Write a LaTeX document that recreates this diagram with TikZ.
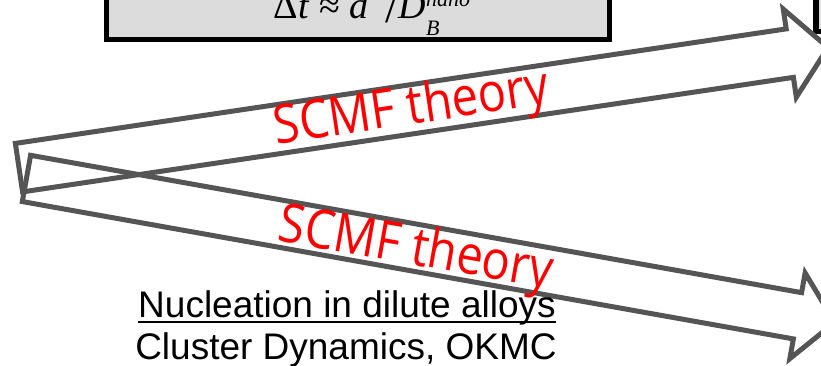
\documentclass[tikz,border=0pt]{standalone}
\usepackage{fontspec}
\setmainfont{Liberation Sans}
\newfontfamily\theoryfont{Open Sans}
\newfontfamily\eqfont{Liberation Serif}
\usepackage{xcolor}
\usepackage{graphicx}
\usepackage{tikz}
\usetikzlibrary{shapes.arrows}
\definecolor{arrowgray}{RGB}{85,85,85}
\definecolor{boxgray}{RGB}{220,220,220}
\newcommand{\scriptpart}[1]{{\fontsize{22}{22}\selectfont\textit{#1}}}

\begin{document}
\begin{tikzpicture}[
        x=1pt, y=-1pt,
        box/.style={
            draw=black,
            line width=5.5pt,
            fill=boxgray,
            inner sep=0pt,
            minimum width=503pt,
            minimum height=90pt
        },
        blockarrow/.style={
            single arrow,
            draw=arrowgray,
            line width=5pt,
            inner xsep=0pt,
            inner ysep=22pt,
            single arrow head extend=20pt,
            single arrow tip angle=98,
            anchor=tail
        },
        theory/.style={
            text=red,
            inner sep=0pt,
            font=\theoryfont\fontsize{47}{50}\selectfont
        },
        caption/.style={
            inner sep=0pt,
            anchor=base,
            font=\fontsize{37}{40}\selectfont
        }
    ]
        \useasboundingbox (0,0) rectangle (821,365);
        \clip (0,0) rectangle (821,365);

        % Caixas de cima (cortadas)
        \node[box, anchor=south] (ratebox) at (358,42) {};
        \node[box, anchor=south west, minimum width=100pt] (nextbox) at (813,34) {};
        \node[anchor=base, inner sep=0pt, font=\eqfont\fontsize{38}{40}\selectfont] (rate) at (372,18)
            {Δ\textit{t} ≈ \textit{d}\raisebox{0.45em}{\scriptpart{2}}\,\raisebox{-0.12em}{\fontsize{46}{46}\selectfont/}\textit{D}\rlap{\raisebox{-0.45em}{\scriptpart{B}}}\raisebox{0.3em}{\scriptpart{nano}}};

        % Setas grossas
        \node[blockarrow, minimum height=818pt, rotate=8.45] (upper) at (16.5,168) {};
        \node[blockarrow, inner ysep=21pt, minimum height=821pt, rotate=-10.1] (lower) at (24,178) {};

        % Rotulos das setas
        \node[theory, rotate=8.5] (scmfup) at (412,110) {\scalebox{1}[1.15]{SCMF theory}};
        \node[theory, rotate=-10] (scmfdown) at (416,251) {\scalebox{1}[1.15]{SCMF theory}};

        % Texto de baixo
        \node[caption] (topic) at (347,317) {Nucleation in dilute alloys};
        \draw[line width=2pt] ([yshift=-5pt]topic.base west) -- ([yshift=-5pt]topic.base east);
        \node[caption] (methods) at (346,359) {Cluster Dynamics, OKMC};
    \end{tikzpicture}
\end{document}
